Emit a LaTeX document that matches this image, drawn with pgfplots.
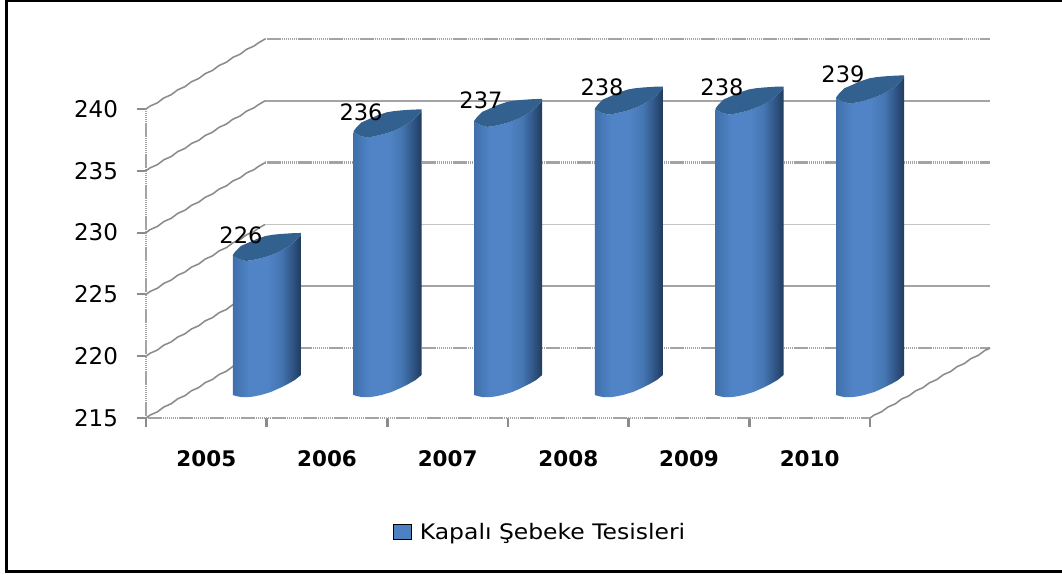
\documentclass[border=0pt]{standalone}
\usepackage{fontspec}
\setmainfont{DejaVu Sans}
\newfontfamily\legfont[FakeStretch=1.1]{DejaVu Sans}
\usepackage{pgfplots}
\usepackage{pgfplotstable}
\pgfplotsset{compat=1.18}
\usetikzlibrary{decorations.pathmorphing}
\definecolor{cA}{HTML}{4070AC}
\definecolor{cB}{HTML}{5084C6}
\definecolor{cC}{HTML}{4677B4}
\definecolor{cD}{HTML}{2F5484}
\definecolor{cE}{HTML}{213B5C}
\definecolor{capc}{HTML}{32608F}
\definecolor{gridc}{HTML}{A4A4A4}
\pgfdeclarehorizontalshading{cyl}{100bp}{color(0bp)=(cA); color(25bp)=(cA); color(37bp)=(cB); color(50bp)=(cB); color(60bp)=(cC); color(69bp)=(cD); color(75bp)=(cE); color(100bp)=(cE)}
\pgfplotstableread{
dx dy f
0 0 0
4 -1.2 0
8 -2 0
14 -2.2 0
20 -1.6 0
28 0 0
38 3 0
47 7 0
55 11 0
62 15 0
68 20 0
68 21 1
62 14.5 1
58 11 1
53 8 1
46 4 1
40 1.5 1
33 -1 1
25 -3 1
18 -4.5 1
13 -5 1
7 -3.5 1
3 -1.5 1
0 0 1
}\bodytbl
\pgfplotstableread{
dx dy
0 0
3 -1.5
7 -3.5
13 -5
18 -4.5
25 -3
33 -1
40 1.5
46 4
53 8
58 11
62 14.5
68 21
68 23
60 22.8
48 22
40 21.2
33 20
24 17
15 13
8 10
3 5
0 1
}\captbl
\pgfplotstableread{
x y lab
0.287 229.81 226
1.282 239.76 236
2.276 240.73 237
3.279 241.78 238
4.273 241.78 238
5.276 242.83 239
}\labtbl
% #1 category index, #2 height
\newcommand{\cyl}[2]{%
\addplot[forget plot,draw=none,shading=cyl] table[
  x expr={#1+(\thisrow{dx}+26.5)/120.67},
  y expr={216.86+\thisrow{f}*(#2-215)+\thisrow{dy}/12.36}] {\bodytbl};
\addplot[forget plot,draw=none,fill=capc] table[
  x expr={#1+(\thisrow{dx}+26.5)/120.67},
  y expr={216.86+(#2-215)+\thisrow{dy}/12.36}] {\captbl};
}
\tikzset{
  hatch/.style={gridc,line width=2pt,dash pattern=on 1.1pt off 0.45pt},
  solidg/.style={gridc,line width=1.6pt},
  thing/.style={gridc!65,line width=0.8pt},
  side/.style={gridc!85!black,line width=1.15pt,decorate,decoration={snake,amplitude=0.35pt,segment length=12pt}}
}
\begin{document}
\begin{tikzpicture}
\useasboundingbox (0,0) rectangle (796.5pt,-430.5pt);
\fill[white] (0,0) rectangle (796.5pt,-430.5pt);
\draw[line width=2.2pt,black] (797pt,-0.6pt) -- (4.6pt,-0.6pt) -- (4.6pt,-428.3pt) -- (797pt,-428.3pt);
\begin{axis}[
  at={(109.5pt,-313.5pt)},anchor=south west,
  scale only axis,width=543pt,height=231.75pt,
  clip=false,
  xmin=-0.5,xmax=5.5,ymin=215,ymax=240,
  axis x line*=bottom,axis y line*=left,
  axis line style={-,draw=none},
  xtick={0,1,2,3,4,5},
  xticklabels={2005,2006,2007,2008,2009,2010},
  minor xtick={-0.5,0.5,1.5,2.5,3.5,4.5,5.5},
  ytick={215,220,225,230,235,240},
  major x tick style={draw=none},
  minor x tick style={gridc!85!black,line width=2pt},
  major y tick style={gridc!85!black,line width=1.6pt},
  minor tick length=6.5pt,
  major tick length=6.5pt,
  tick align=outside,
  /pgf/number format/assume math mode=true,
  yticklabel style={font=\fontsize{17.25}{20}\selectfont,text=black,xshift=-11pt},
  xticklabel style={font=\fontsize{16.1}{20}\bfseries\selectfont,text=black,yshift=-14.5pt},
  legend style={at={(0.545,-0.369)},anchor=center,draw=none,fill=none,
    font=\fontsize{16}{18}\legfont\selectfont,legend cell align=left,inner sep=0pt},
]
\addlegendimage{legend image code/.code={\fill[fill=cB!85!cA] (0pt,-5.6pt) rectangle (13.5pt,5.6pt);\path (17.5pt,0pt);}}
\addlegendentry{Kapalı Şebeke Tesisleri}
% front axis lines
\addplot[forget plot,hatch] coordinates {(-0.5,215)(-0.5,240)};
\addplot[forget plot,hatch] coordinates {(-0.5,215)(5.5,215)};
% back wall
\addplot[forget plot,hatch] coordinates {(0.486,245.66)(6.494,245.66)};
\addplot[forget plot,solidg] coordinates {(0.486,240.66)(6.494,240.66)};
\addplot[forget plot,hatch] coordinates {(0.486,235.66)(6.494,235.66)};
\addplot[forget plot,thing] coordinates {(0.486,230.66)(6.494,230.66)};
\addplot[forget plot,solidg] coordinates {(0.486,225.66)(6.494,225.66)};
\addplot[forget plot,hatch] coordinates {(0.486,220.66)(6.494,220.66)};
% side wall and floor edge
\addplot[forget plot,side] coordinates {(-0.5,240)(0.486,245.66)};
\addplot[forget plot,side] coordinates {(-0.5,235)(0.486,240.66)};
\addplot[forget plot,side] coordinates {(-0.5,230)(0.486,235.66)};
\addplot[forget plot,side] coordinates {(-0.5,225)(0.486,230.66)};
\addplot[forget plot,side] coordinates {(-0.5,220)(0.486,225.66)};
\addplot[forget plot,side] coordinates {(-0.5,215)(0.486,220.66)};
\addplot[forget plot,side] coordinates {(5.5,215)(6.494,220.66)};
% cylinders
\cyl{0}{226.25}
\cyl{1}{236.25}
\cyl{2}{237.1}
\cyl{3}{238.1}
\cyl{4}{238.1}
\cyl{5}{239.0}
% data labels
\addplot[forget plot,draw=none,mark=none,
  nodes near coords,point meta=explicit symbolic,
  every node near coord/.style={anchor=center,text=black,inner sep=0pt,
    font=\fontsize{16.9}{20}\selectfont}]
  table[x=x,y=y,meta=lab] {\labtbl};
\end{axis}
\end{tikzpicture}
\end{document}
